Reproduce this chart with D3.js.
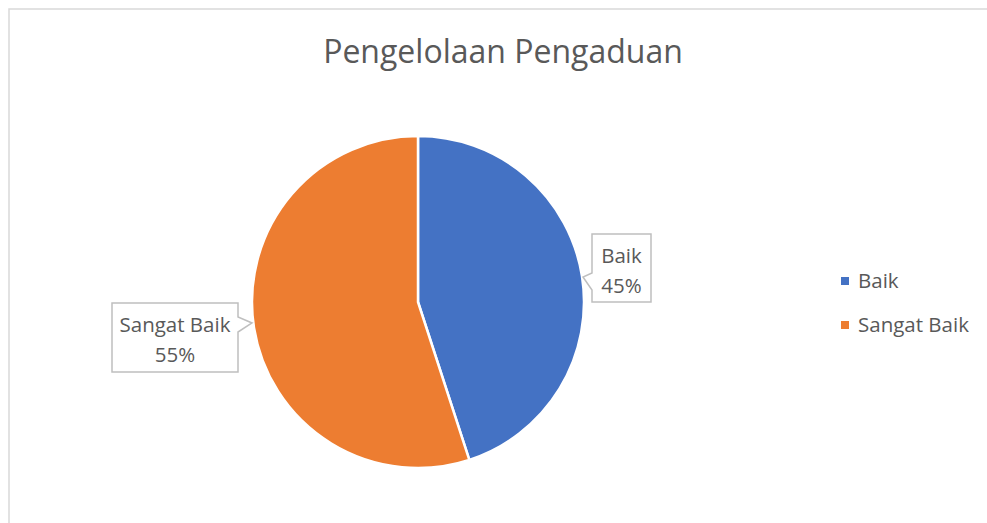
<!DOCTYPE html>
<html><head><meta charset="utf-8">
<script src="https://cdn.jsdelivr.net/npm/d3@7"></script>
<style>body{margin:0;background:#fff;}svg{display:block;font-family:"Open Sans",sans-serif;}</style>
</head><body>
<svg id="chart" width="987" height="523"></svg>
<script>
const title = "Pengelolaan Pengaduan";
const categories = ["Baik", "Sangat Baik"];
const values = [45, 55];
const colors = ["#4472C4", "#ED7D31"];

const svg = d3.select("#chart");
const W = 987, H = 523;
svg.append("rect").attr("x",0).attr("y",0).attr("width",W).attr("height",H).attr("fill","#fff");
// chart border
svg.append("path").attr("d",`M9,${H} L9,9 L${W},9`).attr("fill","none").attr("stroke","#d9d9d9").attr("stroke-width",1.5);

svg.append("text").attr("x",503).attr("y",63).attr("text-anchor","middle")
  .attr("font-size",32).attr("fill","#595959").text(title);

const cx = 418, cy = 302, r = 166;
const total = d3.sum(values);
const pie = d3.pie().sort(null).value(d=>d)(values);
const arc = d3.arc().innerRadius(0).outerRadius(r);
const g = svg.append("g").attr("transform",`translate(${cx},${cy})`);
g.selectAll("path").data(pie).join("path")
  .attr("d",arc).attr("fill",(d,i)=>colors[i])
  .attr("stroke","#fff").attr("stroke-width",2.5).attr("stroke-linejoin","round");

// callouts
const callouts = [
  {box:[592,234,651,302], tip:[583,277], side:"left", p:[273,290]},
  {box:[112,303,238,372], tip:[252,323], side:"right", p:[317,332]}
];
callouts.forEach((c,i)=>{
  const [x0,y0,x1,y1]=c.box;
  let d;
  if(c.side==="left"){
    d=`M${x0},${y0} L${x1},${y0} L${x1},${y1} L${x0},${y1} L${x0},${c.p[1]} L${c.tip[0]},${c.tip[1]} L${x0},${c.p[0]} Z`;
  } else {
    d=`M${x0},${y0} L${x1},${y0} L${x1},${c.p[0]} L${c.tip[0]},${c.tip[1]} L${x1},${c.p[1]} L${x1},${y1} L${x0},${y1} Z`;
  }
  svg.append("path").attr("d",d).attr("fill","#fff").attr("stroke","#bfbfbf").attr("stroke-width",1.5);
  const mx=(x0+x1)/2;
  const t=svg.append("text").attr("text-anchor","middle").attr("font-size",20.5).attr("fill","#595959");
  t.append("tspan").attr("x",mx).attr("y",y0+29).text(categories[i]);
  t.append("tspan").attr("x",mx).attr("y",y0+59).text(Math.round(values[i]/total*100)+"%");
});

// legend
const lg = svg.append("g");
categories.forEach((c,i)=>{
  const y = 281 + i*44;
  lg.append("rect").attr("x",841).attr("y",y-4).attr("width",8).attr("height",8).attr("fill",colors[i]);
  lg.append("text").attr("x",858).attr("y",y+6.5).attr("font-size",20.5).attr("fill","#595959").text(c);
});
</script>
</body></html>
